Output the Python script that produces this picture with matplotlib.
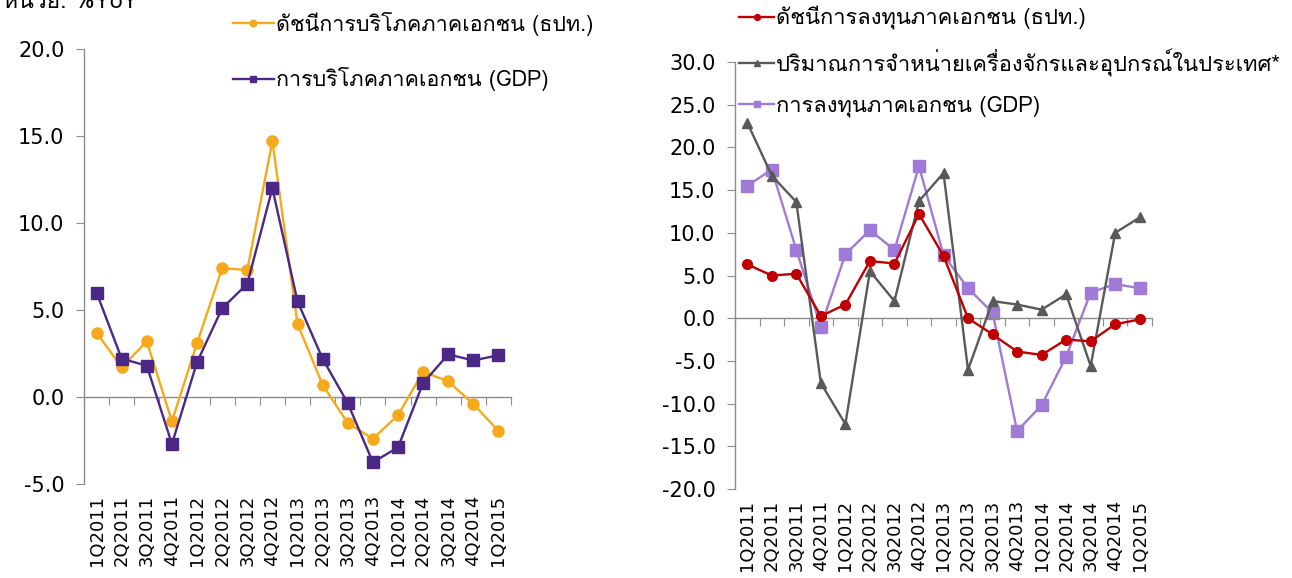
import matplotlib
matplotlib.use("Agg")
import matplotlib.pyplot as plt
from matplotlib import font_manager
from matplotlib.ft2font import FT2Font
from matplotlib.ticker import FixedLocator, NullFormatter

# ---------------- data ----------------
quarters = ["1Q2011", "2Q2011", "3Q2011", "4Q2011", "1Q2012", "2Q2012", "3Q2012", "4Q2012",
            "1Q2013", "2Q2013", "3Q2013", "4Q2013", "1Q2014", "2Q2014", "3Q2014", "4Q2014", "1Q2015"]

cons_index = [3.7, 1.7, 3.2, -1.4, 3.1, 7.4, 7.3, 14.7, 4.2, 0.7, -1.5, -2.4, -1.05, 1.45, 0.9, -0.4, -1.95]
cons_gdp = [6.0, 2.2, 1.8, -2.7, 2.0, 5.1, 6.5, 12.0, 5.5, 2.2, -0.35, -3.75, -2.9, 0.8, 2.45, 2.1, 2.4]

inv_index = [6.3, 5.0, 5.2, 0.25, 1.6, 6.7, 6.4, 12.2, 7.3, 0.0, -1.9, -3.9, -4.3, -2.5, -2.7, -0.7, -0.15]
machinery = [22.9, 16.7, 13.6, -7.6, -12.4, 5.5, 2.0, 13.7, 17.0, -6.05, 2.0, 1.6, 1.0, 2.8, -5.6, 10.0, 11.8]
inv_gdp = [15.5, 17.4, 8.0, -1.0, 7.5, 10.3, 8.0, 17.8, 7.4, 3.5, 0.65, -13.2, -10.2, -4.5, 3.0, 4.0, 3.5]

left_yticks = [-5.0, 0.0, 5.0, 10.0, 15.0, 20.0]
right_yticks = [-20.0, -15.0, -10.0, -5.0, 0.0, 5.0, 10.0, 15.0, 20.0, 25.0, 30.0]

lbl_cons_index = "ดัชนีการบริโภคภาคเอกชน (ธปท.)"
lbl_cons_gdp = "การบริโภคภาคเอกชน (GDP)"
lbl_inv_index = "ดัชนีการลงทุนภาคเอกชน (ธปท.)"
lbl_machinery = "ปริมาณการจำหน่ายเครื่องจักรและอุปกรณ์ในประเทศ*"
lbl_inv_gdp = "การลงทุนภาคเอกชน (GDP)"
unit_text = "หน่วย: %YoY"

# ---------------- fonts ----------------
thai_fams = []
for f in font_manager.fontManager.ttflist:
    try:
        cmap = FT2Font(f.fname).get_charmap()
        if ord("ก") in cmap and f.name not in thai_fams:
            thai_fams.append(f.name)
    except Exception:
        pass

def pick(fams):
    for pref in ("Tahoma", "Loma", "Garuda", "Norasi", "Noto Sans Thai Looped", "Noto Sans Thai"):
        if pref in fams:
            return pref
    return fams[0] if fams else None

thai = pick(thai_fams)
THAI = ([thai] if thai else []) + ["DejaVu Sans"]
plt.rcParams["font.family"] = ["DejaVu Sans"]

# ---------------- figure ----------------
W, H = 1292, 578
fig = plt.figure(figsize=(W / 100, H / 100), dpi=100)

AXIS_COL = "#8c8c8c"
x = list(range(len(quarters)))


def style_axis(ax, ymin, ymax, yticks):
    ax.set_xlim(-0.5, len(quarters) - 0.5)
    ax.set_ylim(ymin, ymax)
    for s in ["top", "right"]:
        ax.spines[s].set_visible(False)
    ax.spines["left"].set_color(AXIS_COL)
    ax.spines["left"].set_linewidth(1.0)
    ax.spines["bottom"].set_position(("data", 0))
    ax.spines["bottom"].set_color(AXIS_COL)
    ax.spines["bottom"].set_linewidth(1.0)
    ax.set_yticks(yticks)
    ax.set_yticklabels([f"{v:.1f}" for v in yticks])
    ax.tick_params(axis="y", direction="out", length=6, color=AXIS_COL, labelsize=15, pad=8)
    bounds = [i - 0.5 for i in range(len(quarters) + 1)]
    ax.xaxis.set_major_locator(FixedLocator(bounds))
    ax.xaxis.set_major_formatter(NullFormatter())
    ax.tick_params(axis="x", direction="out", length=6, color=AXIS_COL)
    sec = ax.secondary_xaxis(0.0)
    sec.set_xticks(x)
    sec.set_xticklabels(quarters, rotation=90, fontsize=13)
    sec.tick_params(length=0, pad=8)
    sec.spines["bottom"].set_visible(False)


LW = 1.7

# left chart
axL = fig.add_axes([84 / W, 1 - 484 / H, (511 - 84) / W, (484 - 49) / H])
style_axis(axL, -5, 20, left_yticks)
axL.plot(x, cons_index, color="#F6A91B", lw=LW, marker="o", ms=8, label=lbl_cons_index, zorder=3)
axL.plot(x, cons_gdp, color="#4B2886", lw=LW, marker="s", ms=8, label=lbl_cons_gdp, zorder=4)
axL.legend(loc="upper left", bbox_to_anchor=(233 / W, 1 - 12 / H), bbox_transform=fig.transFigure,
           frameon=False, prop={"family": THAI, "size": 15.5}, handlelength=1.9, handletextpad=0.1,
           labelspacing=1.45, markerscale=0.6, borderpad=0, borderaxespad=0)

# right chart
axR = fig.add_axes([735 / W, 1 - 489 / H, (1152 - 735) / W, (489 - 62) / H])
style_axis(axR, -20, 30, right_yticks)
axR.plot(x, inv_index, color="#C00000", lw=LW, marker="o", ms=7, label=lbl_inv_index, zorder=4)
axR.plot(x, machinery, color="#595959", lw=LW, marker="^", ms=7, label=lbl_machinery, zorder=3)
axR.plot(x, inv_gdp, color="#9F7AD6", lw=LW, marker="s", ms=8, label=lbl_inv_gdp, zorder=2)
axR.legend(loc="upper left", bbox_to_anchor=(739 / W, 1 - 6 / H), bbox_transform=fig.transFigure,
           frameon=False, prop={"family": THAI, "size": 15.8}, handlelength=1.6, handletextpad=0.1,
           labelspacing=0.85, markerscale=0.6, borderpad=0, borderaxespad=0)

fig.text(3 / W, 1 - 1 / H, unit_text, fontsize=16.5, va="center", ha="left", family=THAI)

fig.savefig("out.png", dpi=100)
